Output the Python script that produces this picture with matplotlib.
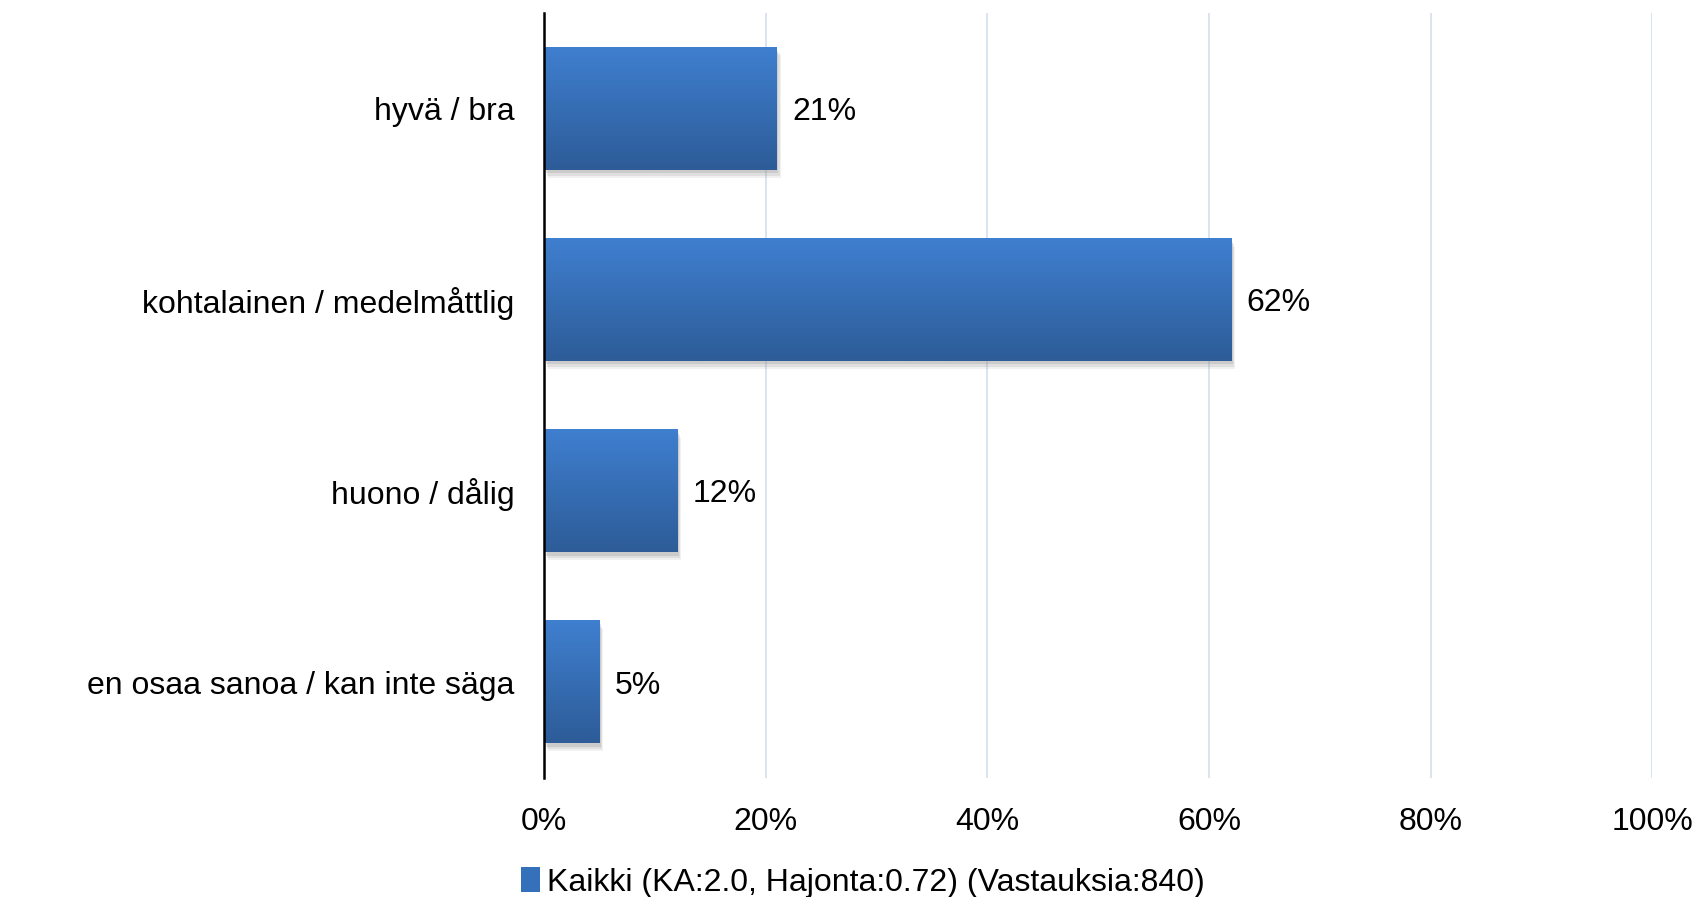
import numpy as np
import matplotlib.pyplot as plt
from matplotlib.patches import Rectangle
from matplotlib.colors import LinearSegmentedColormap

categories = ["hyvä / bra", "kohtalainen / medelmåttlig", "huono / dålig",
              "en osaa sanoa / kan inte säga"]
values = [21, 62, 12, 5]
ticks = [0, 20, 40, 60, 80, 100]
tick_labels = ["0%", "20%", "40%", "60%", "80%", "100%"]
legend_label = "Kaikki (KA:2.0, Hajonta:0.72) (Vastauksia:840)"

plt.rcParams['font.family'] = ['Liberation Sans', 'DejaVu Sans']

fig = plt.figure(figsize=(17, 8.97), dpi=100)
ax = fig.add_axes([0.32, 0.133, 0.652, 0.8525])

ypos = np.arange(len(categories))
h = 0.64
grad = np.linspace(0, 1, 64).reshape(-1, 1)
cmap = LinearSegmentedColormap.from_list("bar", ["#3F7FCF", "#2D5C98"])

for y, v in zip(ypos, values):
    # soft shadow under the bar
    for k, a in [(0.35, 0.12), (0.25, 0.18), (0.15, 0.25)]:
        ax.add_patch(Rectangle((k, y - h / 2 + k * 0.12), v, h, color="#909090",
                               alpha=a, zorder=2, lw=0))
    ax.imshow(grad, extent=(0, v, y + h / 2, y - h / 2), cmap=cmap, aspect="auto", zorder=3)
    ax.text(v + 1.4, y, f"{v}%", va="center_baseline", ha="left", fontsize=23)

ax.set_xlim(0, 100)
ax.set_ylim(len(categories) - 0.5, -0.5)
ax.set_xticks(ticks)
ax.set_xticklabels(tick_labels, fontsize=23)
ax.set_yticks(ypos)
ax.set_yticklabels(categories, fontsize=23)
ax.tick_params(length=0, axis="x", pad=21)
ax.tick_params(length=0, axis="y", pad=21.5)
ax.xaxis.grid(True, color="#D6E2EF", lw=1.3, zorder=0)
ax.set_axisbelow(True)
for s in ["top", "right", "bottom"]:
    ax.spines[s].set_visible(False)
ax.spines["left"].set_linewidth(1.8)
ax.spines["left"].set_zorder(5)

ax.add_patch(Rectangle((0, 0), 0, 0, facecolor="#3570BA", label=legend_label))
fig.legend(loc="center", bbox_to_anchor=(0.5075, 0.016), frameon=False,
           handlelength=0.6, handleheight=0.8, handletextpad=0.2,
           prop={"size": 23})

fig.savefig("out.png", dpi=100)
